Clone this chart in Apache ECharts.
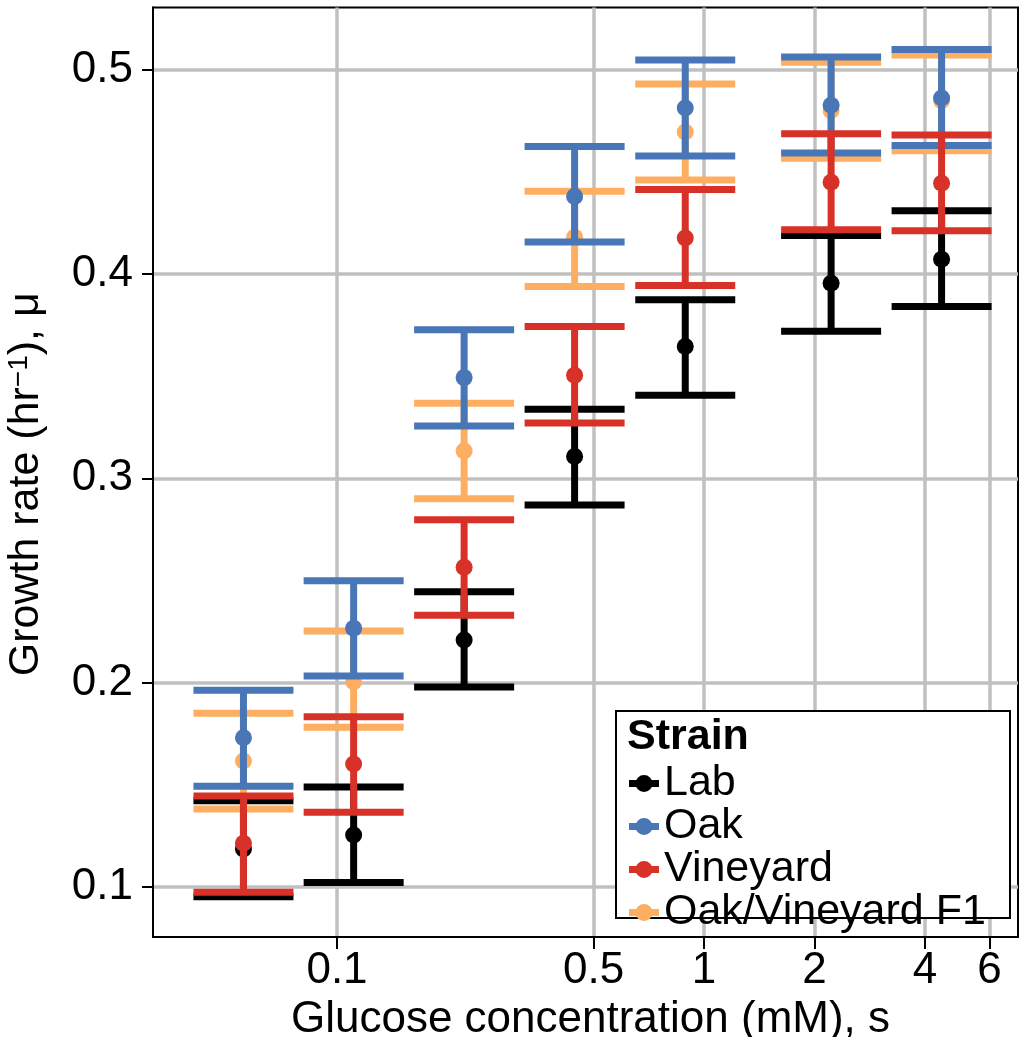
<!DOCTYPE html>
<html><head><meta charset="utf-8">
<script src="https://cdn.jsdelivr.net/npm/echarts@6/dist/echarts.min.js"></script>
<style>html,body{margin:0;padding:0;background:#fff}#c{width:1019px;height:1037px}</style>
</head><body><div id="c"></div>
<script>
// Glucose concentrations (mM)
const concentrations = [0.0556, 0.111, 0.222, 0.444, 0.889, 2.22, 4.44];

const labMean  = [0.1184, 0.1252, 0.2208, 0.3106, 0.3645, 0.3955, 0.4073];
const labLow   = [0.0950, 0.1019, 0.1977, 0.2869, 0.3407, 0.3720, 0.3841];
const labHigh  = [0.1420, 0.1488, 0.2444, 0.3338, 0.3875, 0.4189, 0.4310];

const oakMean  = [0.1729, 0.2265, 0.3493, 0.4380, 0.4814, 0.4827, 0.4863];
const oakLow   = [0.1491, 0.2031, 0.3256, 0.4158, 0.4579, 0.4594, 0.4630];
const oakHigh  = [0.1961, 0.2498, 0.3727, 0.4625, 0.5049, 0.5064, 0.5100];

const vinMean  = [0.1212, 0.1600, 0.2564, 0.3505, 0.4177, 0.4450, 0.4445];
const vinLow   = [0.0972, 0.1364, 0.2329, 0.3271, 0.3944, 0.4218, 0.4213];
const vinHigh  = [0.1443, 0.1832, 0.2797, 0.3743, 0.4414, 0.4688, 0.4682];

const f1Mean   = [0.1615, 0.2003, 0.3134, 0.4181, 0.4696, 0.4802, 0.4850];
const f1Low    = [0.1380, 0.1780, 0.2899, 0.3939, 0.4461, 0.4568, 0.4605];
const f1High   = [0.1849, 0.2252, 0.3367, 0.4406, 0.4931, 0.5038, 0.5074];

const xTickValues = [0.1, 0.5, 1, 2, 4, 6];
const xTickLabels = ['0.1', '0.5', '1', '2', '4', '6'];
const yTickValues = [0.1, 0.2, 0.3, 0.4, 0.5];
const yTickLabels = ['0.1', '0.2', '0.3', '0.4', '0.5'];

const legendOrder = ['Lab', 'Oak', 'Vineyard', 'Oak/Vineyard F1'];
const colors = {
  'Lab': '#000000',
  'Oak': '#4876b7',
  'Vineyard': '#d83128',
  'Oak/Vineyard F1': '#fdae61'
};

const FONT = '"Liberation Sans", Arial, Helvetica, sans-serif';

function rows(mean, low, high) {
  return concentrations.map((c, i) => [Math.log10(c), mean[i], low[i], high[i]]);
}

function renderErr(color) {
  return function (params, api) {
    const x = api.value(0);
    const pm = api.coord([x, api.value(1)]);
    const pl = api.coord([x, api.value(2)]);
    const ph = api.coord([x, api.value(3)]);
    const half = 50, lw = 7;
    const st = { stroke: color, lineWidth: lw };
    return {
      type: 'group',
      children: [
        { type: 'line', shape: { x1: pm[0], y1: pl[1], x2: pm[0], y2: ph[1] }, style: st },
        { type: 'line', shape: { x1: pm[0] - half, y1: ph[1], x2: pm[0] + half, y2: ph[1] }, style: st },
        { type: 'line', shape: { x1: pm[0] - half, y1: pl[1], x2: pm[0] + half, y2: pl[1] }, style: st },
        { type: 'circle', shape: { cx: pm[0], cy: pm[1], r: 8.5 }, style: { fill: color } }
      ]
    };
  };
}

function mkSeries(name, mean, low, high) {
  return {
    name: name,
    type: 'custom',
    renderItem: renderErr(colors[name]),
    itemStyle: { color: colors[name] },
    encode: { x: 0, y: [1, 2, 3] },
    data: rows(mean, low, high),
    clip: false
  };
}

function nearestLabel(v, vals, labels) {
  let best = 0, bd = Infinity;
  for (let i = 0; i < vals.length; i++) {
    const d = Math.abs(vals[i] - v);
    if (d < bd) { bd = d; best = i; }
  }
  return labels[best];
}

const iconPath = 'path://M0,5 H30 V12 H0 Z M6.5,8.5 A8.5,8.5 0 0,1 23.5,8.5 A8.5,8.5 0 0,1 6.5,8.5 Z';

const xLogTicks = xTickValues.map(v => Math.log10(v));

const chart = echarts.init(document.getElementById('c'), null, { renderer: 'canvas' });
chart.setOption({
  animation: false,
  backgroundColor: '#ffffff',
  grid: {
    left: 153, right: 1, top: 7.5, bottom: 100,
    outerBoundsMode: 'none',
    containLabel: false,
    show: true, borderColor: '#000', borderWidth: 2, backgroundColor: 'transparent'
  },
  xAxis: {
    type: 'value',
    min: -1.5014, max: 0.8556,
    name: 'Glucose concentration (mM), s',
    nameLocation: 'middle',
    nameGap: 52,
    nameTextStyle: { fontFamily: FONT, fontSize: 44, color: '#000', padding: [0, 0, 0, 10] },
    axisLine: { show: true, onZero: false, lineStyle: { color: '#000', width: 2 } },
    axisTick: { show: true, length: 12, customValues: xLogTicks, lineStyle: { color: '#000', width: 2 } },
    axisLabel: {
      customValues: xLogTicks,
      margin: 12,
      fontFamily: FONT, fontSize: 44, color: '#000',
      formatter: v => nearestLabel(v, xLogTicks, xTickLabels)
    },
    splitLine: { show: true, lineStyle: { color: '#c0c0c0', width: 3.5 } }
  },
  yAxis: {
    type: 'value',
    min: 0.07526, max: 0.53062,
    name: '{a|Growth rate (hr}{s|−1}{a|), μ}',
    nameLocation: 'middle',
    nameRotate: 90,
    nameGap: 88,
    nameTextStyle: {
      padding: [0, 24, 0, 0],
      rich: {
        a: { fontFamily: FONT, fontSize: 43, color: '#000', lineHeight: 43, verticalAlign: 'bottom' },
        s: { fontFamily: FONT, fontSize: 28, color: '#000', lineHeight: 28, padding: [0, 0, 28, 0], verticalAlign: 'top' }
      }
    },
    axisLine: { show: true, onZero: false, lineStyle: { color: '#000', width: 2 } },
    axisTick: { show: true, length: 11, customValues: yTickValues, lineStyle: { color: '#000', width: 2 } },
    axisLabel: {
      customValues: yTickValues,
      margin: 20,
      fontFamily: FONT, fontSize: 44, color: '#000',
      formatter: v => nearestLabel(v, yTickValues, yTickLabels)
    },
    splitLine: { show: true, lineStyle: { color: '#c0c0c0', width: 3.5 } }
  },
  legend: {
    orient: 'vertical',
    left: 629, top: 762,
    padding: 0,
    itemGap: 0,
    itemWidth: 30, itemHeight: 17, itemTextGap: 9,
    selectedMode: false,
    textStyle: { fontFamily: FONT, fontSize: 43, color: '#000', lineHeight: 37 },
    data: legendOrder.map(n => ({ name: n, icon: iconPath, itemStyle: { color: colors[n] } })),
    z: 6
  },
  graphic: [
    { type: 'rect', z: 5, shape: { x: 616, y: 711, width: 394, height: 207 },
      style: { fill: '#fff', stroke: '#000', lineWidth: 2 } },
    { type: 'text', z: 7, style: { x: 627, y: 737, text: 'Strain', fill: '#000',
      font: 'bold 43px ' + FONT, verticalAlign: 'middle', align: 'left' } }
  ],
  series: [
    mkSeries('Lab', labMean, labLow, labHigh),
    mkSeries('Oak/Vineyard F1', f1Mean, f1Low, f1High),
    mkSeries('Oak', oakMean, oakLow, oakHigh),
    mkSeries('Vineyard', vinMean, vinLow, vinHigh)
  ]
});
</script>
</body></html>
